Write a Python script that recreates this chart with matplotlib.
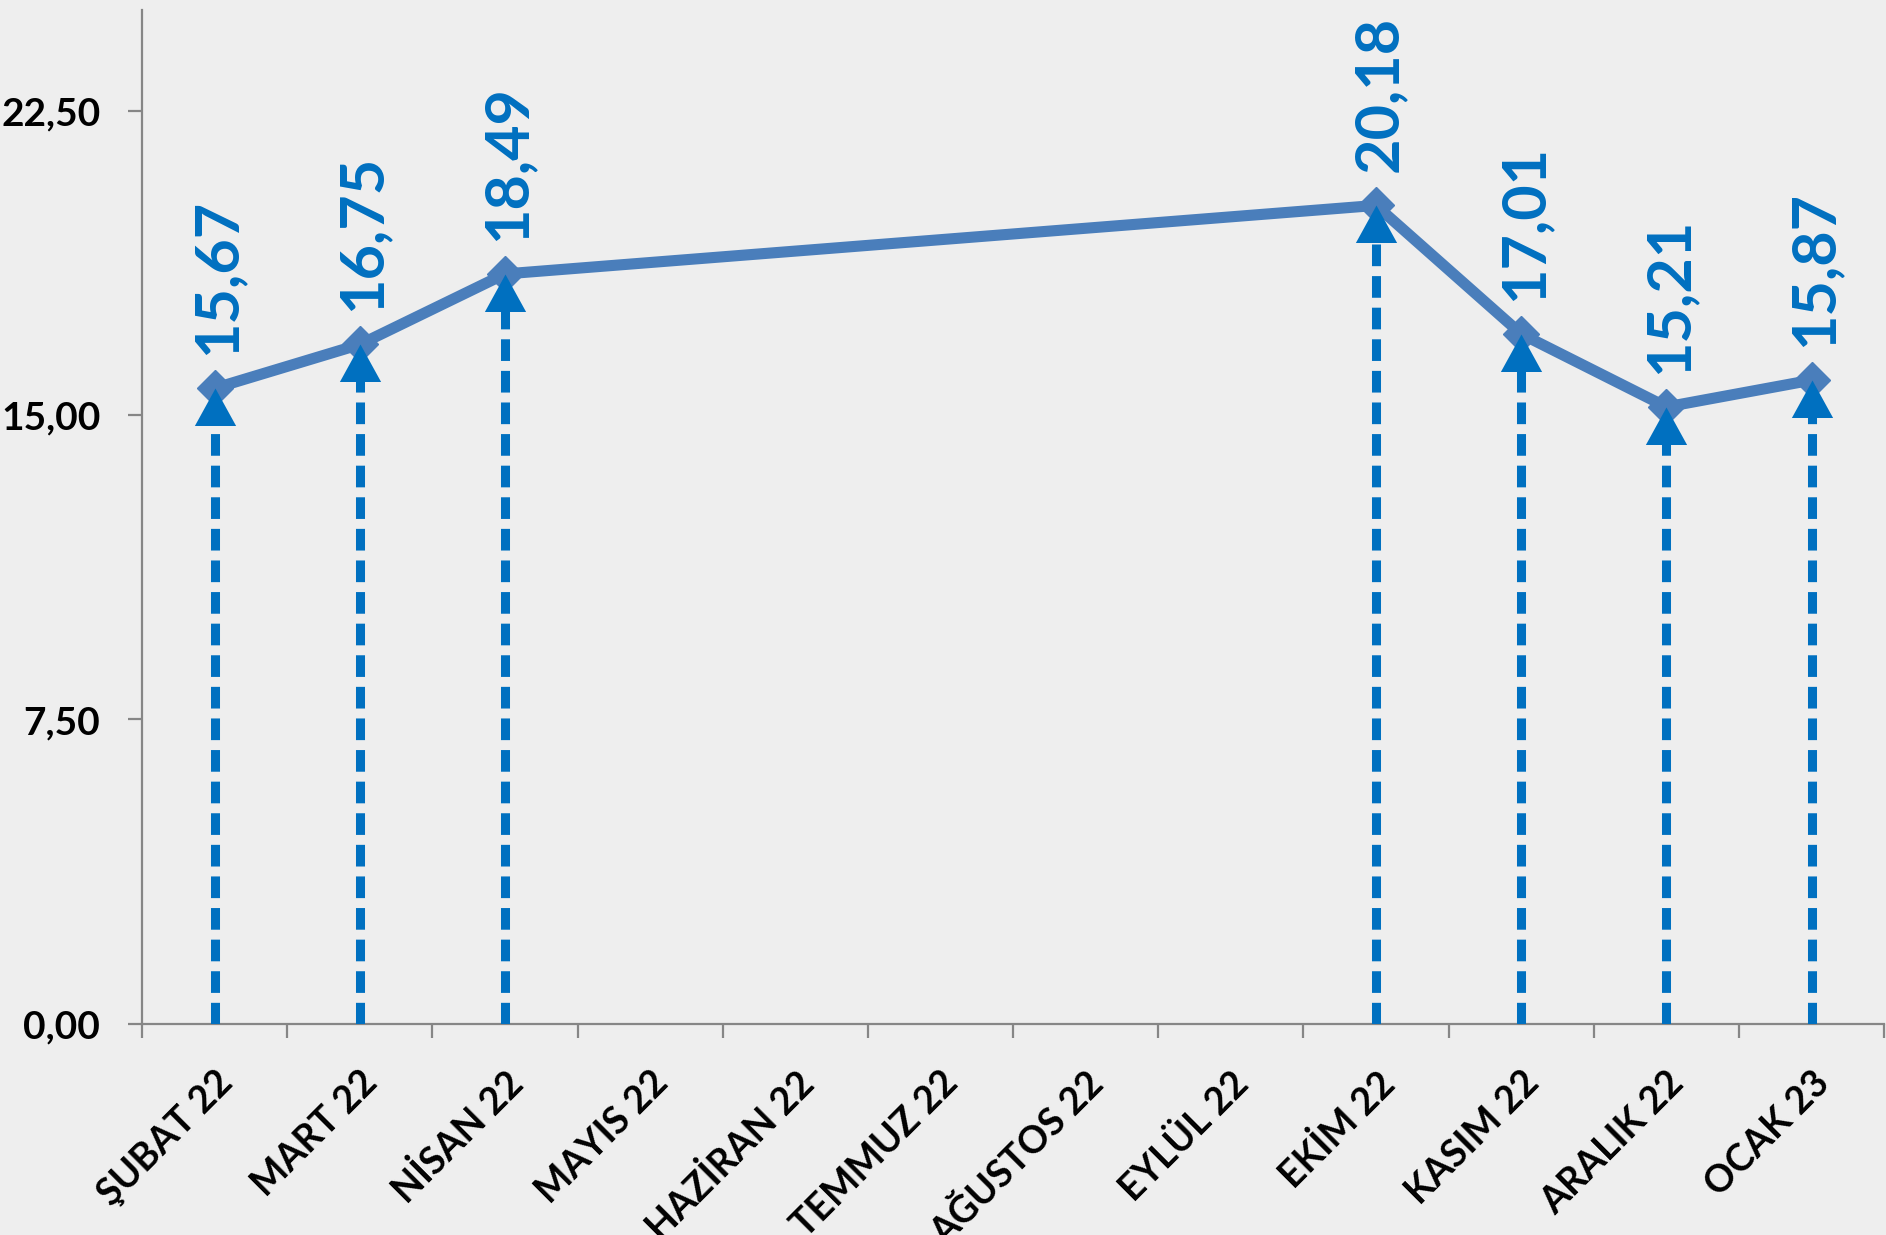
import numpy as np
import matplotlib
matplotlib.use("Agg")
import matplotlib.pyplot as plt
from matplotlib.transforms import ScaledTranslation

months = ["ŞUBAT 22", "MART 22", "NİSAN 22", "MAYIS 22", "HAZİRAN 22", "TEMMUZ 22",
          "AĞUSTOS 22", "EYLÜL 22", "EKİM 22", "KASIM 22", "ARALIK 22", "OCAK 23"]
values = [15.67, 16.75, 18.49, None, None, None, None, None, 20.18, 17.01, 15.21, 15.87]
labels = ["15,67", "16,75", "18,49", "", "", "", "", "", "20,18", "17,01", "15,21", "15,87"]
yticks = [0.0, 7.5, 15.0, 22.5]
ytick_labels = ["0,00", "7,50", "15,00", "22,50"]

plt.rcParams['font.family'] = ['Lato', 'DejaVu Sans']

fig = plt.figure(figsize=(18.86, 12.35), dpi=100)
bg = '#eeeeee'
fig.patch.set_facecolor(bg)
ax = fig.add_axes([0.0753, 0.1712, 0.9237, 0.8207])
ax.set_facecolor(bg)

xs = [i for i, v in enumerate(values) if v is not None]
ys = [v for v in values if v is not None]

line_col = '#4a7ebb'
arrow_col = '#0070c0'

ax.plot(xs, ys, color=line_col, lw=8, marker='D', markersize=18,
        markerfacecolor=line_col, markeredgecolor=line_col, zorder=3,
        solid_joinstyle='miter')

head = [(0, 0), (-0.55, -1), (0.55, -1), (0, 0)]
for x, y in zip(xs, ys):
    ax.plot([x, x], [0, y - 0.6], color=arrow_col, lw=6.5,
            linestyle=(0, (2.4, 1.1)), dash_capstyle='butt', zorder=4)
ax.plot(xs, ys, linestyle='none', marker=head, markersize=54,
        color=arrow_col, markeredgewidth=0, zorder=5)

for x, y, lab in zip(range(len(values)), values, labels):
    if y is None:
        continue
    ax.annotate(lab, (x, y), xytext=(2, 24), textcoords='offset points',
                rotation=90, ha='center', va='bottom', fontsize=44,
                fontweight='bold', color=arrow_col, zorder=6)

ax.set_xlim(-0.5, len(months) - 0.5)
ax.set_ylim(0, 25)
ax.set_yticks(yticks)
ax.set_yticklabels(ytick_labels, fontsize=28, fontweight='bold')
ax.set_xticks(np.arange(-0.5, len(months), 1.0))
ax.set_xticklabels([])
ax.set_xticks(np.arange(len(months)), minor=True)
ax.set_xticklabels(months, minor=True, rotation=45, ha='right', va='top',
                   rotation_mode='anchor', fontsize=27, fontweight='bold')
off = ScaledTranslation(-8 / 100, -5 / 100, fig.dpi_scale_trans)
for t in ax.get_xticklabels(minor=True):
    t.set_transform(t.get_transform() + off)

axis_col = '#868686'
for s in ['top', 'right']:
    ax.spines[s].set_visible(False)
for s in ['left', 'bottom']:
    ax.spines[s].set_color(axis_col)
    ax.spines[s].set_linewidth(1.6)
ax.tick_params(axis='y', which='major', length=10, width=1.6, color=axis_col, pad=20)
ax.tick_params(axis='x', which='major', length=10, width=1.6, color=axis_col)
ax.tick_params(axis='x', which='minor', length=0, pad=30)

fig.savefig('out.png', dpi=100, facecolor=bg)
